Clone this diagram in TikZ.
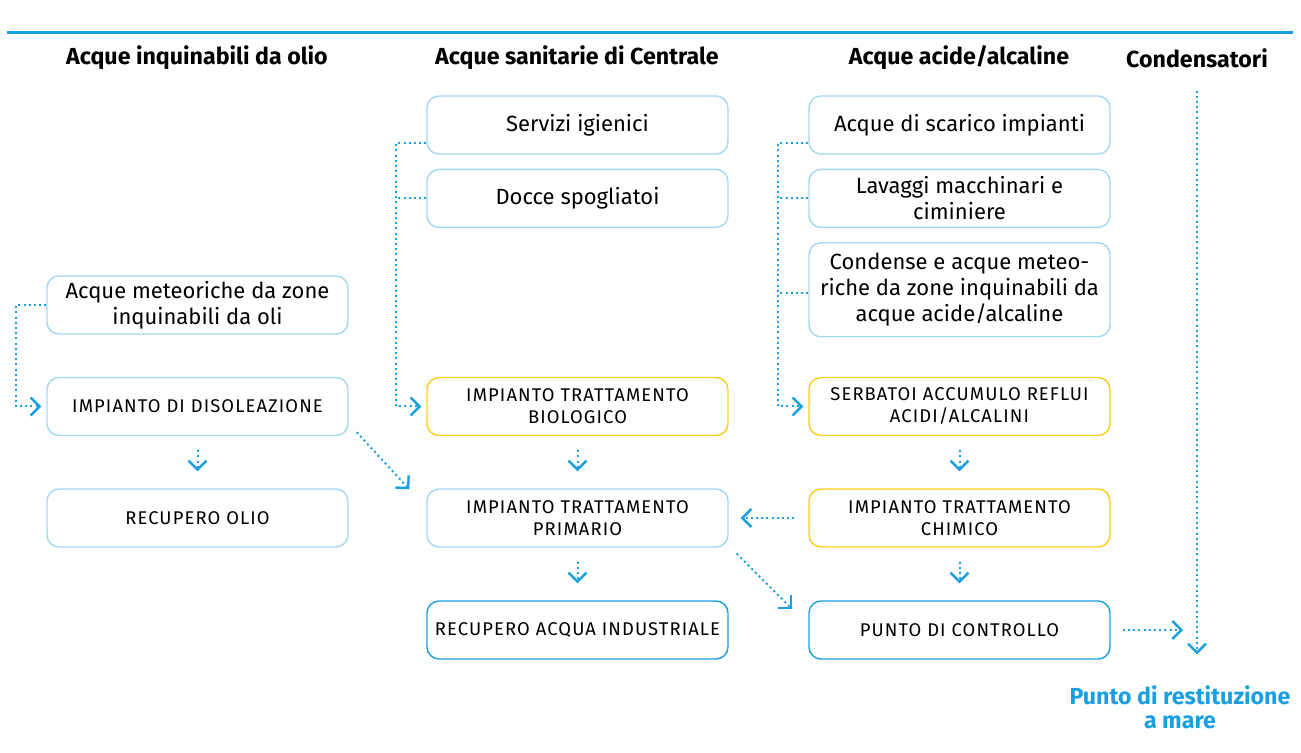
\documentclass[tikz,border=0pt]{standalone}
\usepackage{fontspec}
\setmainfont{Fira Sans}
\newfontfamily\capsfont[LetterSpace=6]{Fira Sans}
\usetikzlibrary{positioning,arrows.meta}
\definecolor{sky}{HTML}{1A9FE0}
\definecolor{pale}{HTML}{A3D7F3}
\definecolor{gold}{HTML}{FFCC1A}

\begin{document}
\begin{tikzpicture}[x=0.5pt,y=-0.5pt,
      every node/.style={font=\fontsize{11}{13}\selectfont},
      heading/.style={font=\bfseries\fontsize{11.6}{13}\selectfont},
      source/.style={draw=pale,line width=0.7pt,rounded corners=6pt,minimum width=150.5pt,minimum height=29pt,align=center,inner sep=2pt},
      plant/.style={source,font=\capsfont\fontsize{9.2}{11}\selectfont},
      tank/.style={plant,draw=gold},
      final/.style={plant,draw=sky},
      flow/.style={sky,line width=1pt,dash pattern=on 1pt off 1.6pt,-{Straight Barb[length=4.5pt,width=9pt,line width=1.2pt]}},
      link/.style={sky,line width=1pt,dash pattern=on 1pt off 1.6pt}]
      \useasboundingbox (0,0) rectangle (1301,753);
      \draw[sky,line width=1.5pt] (7,33) -- (1293,33);
      % column titles
      \node[heading] (oil) at (197,58) {Acque inquinabili da olio};
      \node[heading] (sanit) at (577,58) {Acque sanitarie di Centrale};
      \node[heading] (acid) at (959,58) {Acque acide/alcaline};
      \node[heading] (cond) at (1197,58) {Condensatori};
      % sources
      \node[source] (wc) at (577.5,125) {Servizi igienici};
      \node[source,below=7pt of wc] (showers) {Docce spogliatoi};
      \node[source] (drain) at (959.5,125) {Acque di scarico impianti};
      \node[source,below=7pt of drain] (wash) {Lavaggi macchinari e\\ciminiere};
      \node[source,below=7pt of wash,minimum height=47pt] (rain) {Condense e acque meteo-\\riche da zone inquinabili da\\acque acide/alcaline};
      \node[source] (meteo) at (197.5,305) {Acque meteoriche da zone\\inquinabili da oli};
      % plants
      \node[plant] (deoil) at (197.5,406.5) {IMPIANTO DI DISOLEAZIONE};
      \node[tank] (bio) at (577.5,406.5) {IMPIANTO TRATTAMENTO\\BIOLOGICO};
      \node[tank] (store) at (959.5,406.5) {SERBATOI ACCUMULO REFLUI\\ACIDI/ALCALINI};
      \node[plant] (oilrec) at (197.5,518) {RECUPERO OLIO};
      \node[plant] (primary) at (577.5,518) {IMPIANTO TRATTAMENTO\\PRIMARIO};
      \node[tank] (chem) at (959.5,518) {IMPIANTO TRATTAMENTO\\CHIMICO};
      \node[final] (waterrec) at (577.5,630) {RECUPERO ACQUA INDUSTRIALE};
      \node[final] (check) at (959.5,630) {PUNTO DI CONTROLLO};
      \node[heading,text=sky,align=center,font=\bfseries\fontsize{11.6}{12}\selectfont] (sea) at (1180,707) {Punto di restituzione\\a mare};
      % collectors
      \draw[flow,shorten >=2.5pt] (meteo.west) -- ++(-30,0) |- (deoil.west);
      \draw[flow,shorten >=2.5pt] ([yshift=-9pt]wc.west) -- ++(-30,0) |- (bio.west);
      \draw[link] (showers.west) -- ++(-30,0);
      \draw[flow,shorten >=2.5pt] ([yshift=-9pt]drain.west) -- ++(-30,0) |- (store.west);
      \draw[link] (wash.west) -- ++(-30,0);
      \draw[link] ([yshift=-1.5pt]rain.west) -- ++(-30,0);
      % treatment chain
      \draw[flow,shorten <=7pt,shorten >=8.5pt] (deoil) -- (oilrec);
      \draw[flow,shorten <=7pt,shorten >=8.5pt] (bio) -- (primary);
      \draw[flow,shorten <=7pt,shorten >=8.5pt] (primary) -- (waterrec);
      \draw[flow,shorten <=7pt,shorten >=8.5pt] (store) -- (chem);
      \draw[flow,shorten <=7pt,shorten >=8.5pt] (chem) -- (check);
      \draw[flow] ([xshift=4pt,yshift=2pt]deoil.south east) -- ([xshift=-8.5pt,yshift=-0.5pt]primary.north west);
      \draw[flow] ([xshift=4pt,yshift=-3pt]primary.south east) -- ([xshift=-8pt,yshift=-4.5pt]check.north west);
      \draw[flow,shorten <=7pt,shorten >=6pt] (chem) -- (primary);
      \draw[flow,shorten <=6pt,shorten >=7pt] (check.east) -- (check.east -| cond);
      \draw[flow,shorten <=8pt,shorten >=12pt] (cond) -- (cond |- sea.north);
    \end{tikzpicture}
\end{document}
